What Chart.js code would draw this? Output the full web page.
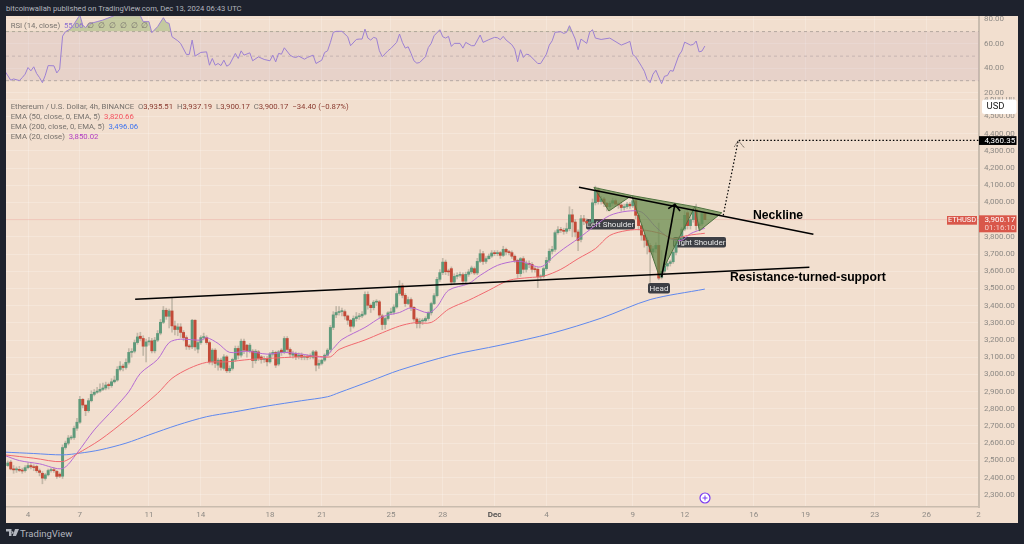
<!DOCTYPE html>
<html><head><meta charset="utf-8">
<script src="https://cdn.jsdelivr.net/npm/chart.js@4"></script>
<style>
html,body{margin:0;padding:0;background:#1e222d;width:1024px;height:544px;overflow:hidden;font-family:Roboto,"Liberation Sans",sans-serif}
#panel{position:absolute;left:6px;top:16px;width:1012px;height:507px;background:#f2dfcf}
canvas{position:absolute}
.t{position:absolute;white-space:nowrap;font-size:7.75px;line-height:10px;color:#77726d}
#hd{left:6px;top:4px;color:#b2b5be;font-size:7.65px}
#ft{left:20px;top:528px;color:#b2b5be;font-size:9.5px;line-height:11px}
.v{color:#8a3b30}
</style></head><body>
<div id="panel"></div>
<canvas id="rsi" style="left:6px;top:16px;width:1012px;height:81px"></canvas>
<canvas id="price" style="left:6px;top:97px;width:1012px;height:426px"></canvas>
<div class="t" id="hd">bitcoinwallah published on TradingView.com, Dec 13, 2024 06:43 UTC</div>
<div class="t" style="left:10.7px;top:20.5px">RSI (14, close) &nbsp;<span style="color:#8d70d0">55.06</span> &nbsp;∅ &nbsp;∅ &nbsp;∅ &nbsp;∅ &nbsp;∅ &nbsp;∅</div>
<div class="t" style="left:10.7px;top:101.5px">Ethereum / U.S. Dollar, 4h, BINANCE &nbsp;O<span class="v">3,935.51</span> &nbsp;H<span class="v">3,937.19</span> &nbsp;L<span class="v">3,900.17</span> &nbsp;C<span class="v">3,900.17</span> &nbsp;<span class="v">−34.40 (−0.87%)</span></div>
<div class="t" style="left:10.7px;top:111.5px">EMA (50, close, 0, EMA, 5) &nbsp;<span style="color:#f4525f">3,820.66</span></div>
<div class="t" style="left:10.7px;top:121.5px">EMA (200, close, 0, EMA, 5) &nbsp;<span style="color:#3f74ef">3,496.06</span></div>
<div class="t" style="left:10.7px;top:131.5px">EMA (20, close) &nbsp;<span style="color:#b23fc4">3,850.02</span></div>
<svg style="position:absolute;left:6px;top:529px" width="13" height="8" viewBox="0 0 13 8"><path d="M0 0h5.5v7H3V2.500H0z M6.200 2.200a1.300 1.300 0 1 0 .01 0z M9 0h4l-3 7H6.700z" fill="#b2b5be"/></svg>
<div class="t" id="ft">TradingView</div>
<script>
// bar index 0 = Nov 4 00:00, one bar = 4h
const firstBar = -7;
const opens = [
2470,2490,2450,2445,2448,2442,2440,2458,2470,2462,
2465,2440,2425,2395,2416,2441,2443,2436,2420,2408,
2575,2600,2630,2633,2687,2722,2855,2822,2789,2847,
2884,2896,2903,2913,2921,2938,2935,2957,2967,3029,
3048,3040,3070,3128,3135,3185,3222,3209,3164,3189,
3195,3137,3199,3240,3303,3373,3338,3369,3282,3261,
3276,3244,3214,3164,3160,3315,3147,3185,3214,3214,
3185,3073,3141,3054,3083,3035,3102,3021,3035,3087,
3151,3112,3193,3170,3137,3135,3081,3131,3102,3087,
3093,3073,3118,3128,3060,3141,3131,3209,3145,3112,
3122,3102,3112,3100,3106,3110,3099,3131,3054,3064,
3083,3112,3145,3273,3346,3360,3365,3365,3340,3315,
3280,3325,3335,3340,3350,3465,3402,3388,3420,3422,
3340,3290,3325,3358,3362,3392,3470,3515,3460,3412,
3435,3390,3322,3296,3310,3312,3325,3358,3412,3458,
3553,3592,3653,3601,3615,3537,3570,3576,3580,3542,
3582,3596,3615,3590,3657,3702,3657,3673,3688,3706,
3702,3708,3692,3727,3712,3708,3687,3663,3586,3673,
3611,3644,3640,3611,3611,3567,3570,3615,3663,3716,
3727,3824,3841,3838,3832,3847,3928,3886,3828,3785,
3905,3890,3880,3885,3998,4073,4005,4020,3995,3975,
3995,4010,3990,3985,3970,3975,3990,3980,4010,3925,
3865,3810,3780,3750,3712,3730,3750,3565,3600,3630,
3645,3655,3710,3780,3790,3845,3940,3865,3900,3958,
3865,3875,3935.51];
const closes = [
2485,2450,2445,2448,2442,2438,2458,2470,2462,2458,
2440,2430,2397,2416,2441,2443,2440,2407,2408,2575,
2600,2630,2633,2687,2722,2855,2822,2789,2847,2884,
2896,2903,2913,2921,2938,2935,2957,2967,3029,3048,
3040,3070,3128,3131,3185,3218,3209,3164,3189,3195,
3137,3199,3238,3303,3373,3338,3369,3282,3261,3276,
3244,3214,3164,3160,3315,3160,3185,3214,3216,3185,
3073,3141,3064,3083,3041,3102,3021,3035,3087,3151,
3112,3193,3141,3137,3170,3081,3135,3093,3087,3093,
3073,3118,3128,3054,3131,3128,3209,3145,3118,3122,
3102,3112,3100,3102,3099,3102,3131,3054,3064,3083,
3112,3141,3273,3346,3360,3365,3365,3340,3315,3280,
3325,3335,3340,3350,3465,3402,3388,3420,3422,3345,
3290,3325,3358,3362,3392,3470,3515,3460,3412,3435,
3390,3322,3296,3310,3312,3325,3358,3412,3458,3553,
3592,3653,3597,3596,3537,3570,3576,3580,3542,3582,
3596,3619,3590,3657,3702,3657,3673,3688,3706,3702,
3708,3692,3727,3712,3708,3687,3663,3586,3673,3611,
3644,3640,3611,3609,3567,3570,3615,3663,3716,3727,
3824,3841,3838,3832,3847,3928,3886,3828,3779,3905,
3890,3880,3885,3998,4073,4005,4020,3995,3975,3995,
4010,3990,3985,3970,3975,3990,3980,4010,3925,3865,
3810,3780,3750,3712,3730,3750,3560,3600,3630,3645,
3655,3710,3780,3790,3845,3925,3865,3900,3958,3865,
3875,3935.51,3900.17];
const highs = [
2498,2500,2470,2462,2465,2455,2470,2485,2482,2475,
2472,2450,2435,2425,2450,2455,2458,2442,2428,2590,
2612,2645,2645,2700,2745,2872,2860,2800,2860,2905,
2912,2925,2945,2950,2955,2950,2975,2990,3045,3075,
3060,3090,3150,3150,3200,3240,3245,3225,3205,3215,
3210,3215,3255,3320,3395,3385,3380,3447,3310,3295,
3295,3255,3225,3175,3320,3318,3195,3225,3240,3225,
3195,3150,3150,3095,3095,3115,3110,3050,3095,3165,
3165,3205,3205,3175,3180,3145,3145,3140,3110,3105,
3105,3128,3140,3135,3140,3150,3220,3220,3155,3135,
3130,3125,3125,3115,3115,3120,3140,3140,3085,3090,
3120,3150,3285,3365,3395,3395,3385,3375,3345,3320,
3340,3360,3355,3365,3480,3480,3410,3430,3435,3430,
3350,3335,3365,3385,3405,3485,3545,3530,3470,3450,
3445,3395,3330,3325,3325,3335,3365,3420,3470,3565,
3610,3675,3665,3612,3625,3585,3590,3595,3590,3595,
3610,3630,3625,3675,3725,3715,3685,3700,3720,3720,
3720,3715,3745,3735,3722,3718,3695,3670,3680,3685,
3660,3660,3650,3625,3620,3580,3625,3680,3730,3745,
3835,3860,3855,3850,3880,3975,3960,3900,3840,3925,
3925,3905,3900,4020,4095,4085,4035,4030,4000,4005,
4025,4020,3998,3995,3990,4000,4000,4025,4020,3935,
3875,3820,3795,3760,3745,3765,3880,3720,3640,3660,
3665,3720,3790,3800,3855,3950,3955,3915,3970,3990,
3885,3945,3937.19];
const lows = [
2465,2445,2425,2430,2435,2425,2432,2450,2450,2440,
2430,2410,2364,2385,2410,2432,2430,2395,2400,2395,
2565,2590,2620,2622,2675,2715,2805,2760,2780,2840,
2875,2890,2895,2905,2910,2915,2925,2950,2960,3020,
3020,3030,3060,3100,3125,3175,3195,3110,3073,3170,
3125,3125,3190,3230,3295,3320,3270,3245,3230,3225,
3215,3195,3145,3145,3150,3140,3125,3175,3200,3175,
3060,3055,3040,3025,3025,3025,3010,3010,3025,3075,
3090,3100,3120,3100,3125,3040,3065,3080,3065,3070,
3050,3065,3105,3040,3050,3110,3120,3125,3100,3095,
3085,3090,3085,3085,3085,3090,3090,3020,3035,3055,
3075,3105,3130,3260,3330,3345,3340,3320,3290,3250,
3270,3310,3320,3330,3345,3380,3360,3375,3400,3330,
3260,3265,3315,3350,3350,3385,3460,3445,3395,3405,
3370,3310,3270,3270,3290,3305,3315,3345,3405,3450,
3540,3580,3580,3575,3520,3525,3555,3565,3525,3530,
3570,3585,3580,3580,3650,3640,3645,3670,3680,3690,
3690,3675,3685,3695,3695,3675,3650,3560,3570,3590,
3595,3620,3595,3595,3505,3550,3560,3605,3650,3700,
3715,3815,3825,3815,3820,3835,3800,3800,3720,3770,
3870,3860,3860,3870,3985,3990,3990,3975,3950,3960,
3980,3975,3965,3950,3955,3965,3965,3970,3905,3840,
3780,3740,3700,3535,3680,3710,3550,3555,3580,3610,
3630,3645,3695,3770,3780,3835,3845,3845,3885,3840,
3850,3865,3900.17];

const ema200Bars = [-8,2,12,18,25,34,42,52,62,71,83,95,104,108,119,129,147,164,182,199,216,235];
const ema200Vals = [2548,2540,2532,2542,2561,2600,2648,2706,2754,2780,2816,2847,2870,2894,2962,3025,3112,3170,3240,3327,3435,3496.06];
const ema50Bars = [-8,2,12,17,25,34,45,50,56,62,69,77,89,100,105,108,117,123,129,134,140,146,153,160,167,174,179,185,191,197,202,208,213,220,224,229,235];
const ema50Vals = [2532,2513,2493,2538,2619,2735,2890,2977,3035,3070,3073,3087,3098,3106,3102,3145,3200,3242,3281,3300,3302,3379,3431,3489,3547,3563,3571,3611,3673,3731,3808,3837,3841,3818,3789,3808,3820.66];
const ema20Bars = [-8,-3,4,12,17,23,30,35,39,45,49,53,60,62,66,70,76,83,89,95,103,106,109,117,123,129,133,139,142,146,153,157,163,169,172,178,183,186,191,197,202,208,213,218,223,227,230,235];
const ema20Vals = [2528,2499,2480,2453,2542,2677,2803,2899,3006,3087,3185,3205,3199,3214,3180,3128,3135,3118,3128,3118,3102,3151,3203,3273,3335,3360,3387,3358,3393,3489,3528,3576,3634,3658,3654,3625,3692,3731,3789,3866,3924,3949,3944,3857,3789,3780,3818,3850.02];

const rsiBars = [-8,-6,-5,-3,-2,-1,0,1,2,3,4,5,6,7,9,10,11,12,13,15,16,18,19,20,21,24,26,30,39,40,42,43,45,47,48,49,50,52,53,55,56,57,58,60,62,63,64,65,66,67,68,69,70,72,73,74,75,77,78,80,82,84,85,86,87,88,89,91,92,93,94,96,97,99,100,102,103,104,105,106,107,109,111,112,114,115,116,117,118,119,120,121,122,123,125,126,128,129,130,131,132,133,134,135,136,138,139,140,141,143,144,145,146,147,148,150,151,152,154,155,157,158,160,162,163,164,165,166,168,169,170,171,172,173,174,177,178,180,181,182,183,185,186,187,188,190,191,192,194,195,196,197,199,202,206,208,209,210,211,213,214,215,216,217,218,220,221,222,223,224,226,227,228,230,231,232,233,234,235];
const rsiVals = [37.7,30.4,31.4,30.1,32.5,35.3,40.7,38,41.3,35.8,32.5,28.4,34.4,42.3,42.1,36.3,39.4,66.3,69.9,72.6,76.2,83.5,75.3,73.2,76.2,78.1,79.4,83,83,78.1,78.1,69.1,74,81.3,77.5,76.7,65.8,62.5,60.3,51.4,51.4,63.1,50,53,53.5,42.6,48.1,42.6,44,42.3,46.7,41.8,43.2,52.2,48.1,54.3,50.8,52.7,46.2,49.4,47.3,46.2,50.8,45.3,52.2,51.6,56.8,50.8,49.4,48.9,50,47.5,48.9,50.8,44,46.7,53,54.3,61.2,69.4,70.2,70.2,65.8,58.5,63.6,63.9,63.9,72,64.7,63.1,65.3,64.5,54.4,49.5,54.4,56.3,61.2,68,61.2,56.5,57.6,52.2,46.2,44.3,44.8,49.5,57,60.4,66.6,71.5,65.8,64.7,66.1,57.9,60.4,60.4,56.5,61.2,58.5,58.5,67.2,61.2,63.4,65.3,65,63.4,66.1,63.1,59.3,55.7,45.4,55.2,48.9,51.6,51.1,44,44,51.6,59,62.5,69.4,69.9,68.5,69.4,74.8,63.9,55.2,63.9,60.4,69.4,71.5,64.7,63.6,64.7,59,60.9,62,51.3,49.4,41.8,37.7,30.9,28.4,35.3,38.5,27.6,33.6,34.2,38.3,37.7,50.8,54.1,61.4,59,59.5,62.3,53.5,54.1,58.2,55.06];

const dateTickBars = [0,18,42,60,84,102,126,144,162,180,210,228,252,270,294,312,330];
const dateTickLabels = ["4","7","11","14","18","21","25","28","Dec","4","9","12","16","19","23","26","2"];
const rsiTicks = [80,60,40,20];

const resistanceBars=[37.2,271.3], resistanceVals=[3437,3623];
const necklineBars=[191.3,272.7], necklineVals=[4088,3815];
const upArrowBars=[220,224.6], upArrowVals=[3565,3989];
const upHeadBars=[222.3,224.6,226.4], upHeadVals=[3964,3989,3950];
const targetBars=[241.4,246.6,330.2], targetVals=[3925,4360.35,4360.35];
const targetHeadBars=[245.3,246.6,248.6], targetHeadVals=[4325,4360.35,4320];
const shapeBars=[[196.5,201.7,209.6],[209.6,219.2,231.6],[231.6,233.1,240.9]];
const shapeVals=[[4087,3950,4040],[4040,3570,3975],[3975,3835,3940]];

const X_MIN=-7.64, X_MAX=330.2, P_MIN=2229, P_MAX=4613, R_MIN=16.7, R_MAX=82.7;
const barsX = opens.map((_,k)=>firstBar+k);
const pts=(xs,ys)=>xs.map((x,k)=>({x,y:ys[k]}));
const GRID='rgba(255,255,255,0.22)', AXIS='#c9bcae', TICK='#8e8a85';
const tickFont=(t)=>({size:8,family:'Roboto,sans-serif',weight:t==='Dec'?'600':'400'});

function xScale(show){return {type:'linear',min:X_MIN,max:X_MAX,offset:false,
  afterBuildTicks:s=>{s.ticks=dateTickBars.map(v=>({value:v}))},
  afterFit:s=>{s.height=show?16:0;s.paddingLeft=0;s.paddingRight=0},
  border:{display:show,color:AXIS,width:1.5},
  grid:{color:GRID,drawTicks:false,offset:false},
  ticks:{display:show,autoSkip:false,maxRotation:0,padding:3,color:(c)=>dateTickLabels[c.index]==='Dec'?'#4a4a4a':TICK,
    font:(c)=>tickFont(dateTickLabels[c.index]),
    callback:(v,i)=>dateTickLabels[i]}}}
function yScale(min,max,cfg){return Object.assign({position:'right',min,max,
  afterFit:s=>{s.width=39;s.paddingTop=0;s.paddingBottom=0},
  border:{color:AXIS,width:2},
  grid:{color:GRID,drawTicks:false},
  },cfg)}

const rsiLine=(y,dash,c)=>({type:'line',data:pts([X_MIN,X_MAX],[y,y]),borderColor:c,borderWidth:1,borderDash:dash,pointRadius:0,fill:false});
new Chart(document.getElementById('rsi'),{type:'line',
 data:{datasets:[
  {data:pts(rsiBars,rsiVals),borderColor:'#9c80d2',borderWidth:1,pointRadius:0,tension:0,order:1,
   fill:{target:{value:70},above:'rgba(120,165,85,0.38)',below:'rgba(0,0,0,0)'}},
  Object.assign(rsiLine(70,[3,3],'#b5a8a0'),{order:3,fill:{target:{value:30}},backgroundColor:'rgba(190,165,180,0.22)'}),
  Object.assign(rsiLine(50,[3,3],'#c8b8b0'),{order:4}),
  Object.assign(rsiLine(30,[3,3],'#b5a8a0'),{order:5})
 ]},
 options:{responsive:false,animation:false,layout:{padding:0},
  plugins:{legend:{display:false},tooltip:{enabled:false}},
  scales:{x:xScale(false),
   y:yScale(R_MIN,R_MAX,{afterBuildTicks:s=>{s.ticks=rsiTicks.map(v=>({value:v}))},
     ticks:{color:TICK,padding:5,font:{size:8,family:'Roboto,sans-serif'},callback:v=>v.toFixed(2)}})}
 }});

const upColor='#5f9a7b', downColor='#c34a38';
const annotation=(xs,ys,o)=>Object.assign({type:'line',data:pts(xs,ys),pointRadius:0,borderColor:'#000',borderWidth:1.6,fill:false,tension:0},o);
const EMA_LAST=2;
const overlay={id:'overlay',
 beforeDatasetsDraw(chart){
  const c=chart.ctx,top=chart.canvas.offsetTop,left=chart.canvas.offsetLeft;
  const pill=(x0,y0,w,h,txt)=>{c.fillStyle='#3d3f45';c.beginPath();c.roundRect(x0-left,y0-top,w,h,2);c.fill();
    c.fillStyle='#e6e6e6';c.font='400 8px Roboto,sans-serif';c.textAlign='center';c.textBaseline='middle';c.fillText(txt,x0-left+w/2,y0-top+h/2+.5)};
  c.save();
  pill(586,219,49,10.5,'Left Shoulder');pill(673,237,53,10.5,'Right Shoulder');pill(648,283,22,10.5,'Head');
  c.restore();
 },
 afterDatasetDraw(chart,args){
  if(args.index!==EMA_LAST) return;
  const {x,y}=chart.scales,c=chart.ctx;
  c.save();
  shapeBars.forEach((b,k)=>{c.beginPath();
    b.forEach((v,j)=>{const px=x.getPixelForValue(v),py=y.getPixelForValue(shapeVals[k][j]);j?c.lineTo(px,py):c.moveTo(px,py)});
    c.closePath();c.fillStyle='rgba(104,140,78,0.74)';c.fill();c.strokeStyle='#4f7240';c.lineWidth=1;c.stroke();});
  c.restore();
 },
 afterDraw(chart){
  const {x,y}=chart.scales,c=chart.ctx;
  const top=chart.canvas.offsetTop,left=chart.canvas.offsetLeft;
  const X=v=>v-left,Y=v=>v-top;
  c.save();
  const font=(s,w)=>w+' '+s+'px Roboto,sans-serif';
  c.fillStyle='#000';c.textAlign='left';c.textBaseline='middle';c.font='bold 12.2px "Liberation Sans",sans-serif';
  c.fillText('Neckline',X(753),Y(215.5));c.fillText('Resistance-turned-support',X(730),Y(277.5));
  c.textBaseline='middle';c.textAlign='left';
  c.fillStyle='#fff';c.beginPath();c.roundRect(X(982),Y(99.5),34.5,14.5,2.5);c.fill();
  c.fillStyle='#222';c.font=font(9.5,400);c.fillText('USD',X(986.5),Y(107));
  const py=y.getPixelForValue(4360.35);
  c.fillStyle='#000';c.fillRect(X(979),py-4.3,37.5,8.8);
  c.fillStyle='#fff';c.font=font(8,400);c.fillText('4,360.35',X(984.5),py+.3);
  c.fillStyle='#d9574a';c.fillRect(X(979),Y(215.3),37.5,17);
  c.fillRect(X(947),Y(216),30,8.7);
  c.fillStyle='#fff';c.fillText('3,900.17',X(984.5),Y(219.8));
  c.fillStyle='#f6cfc8';c.fillText('01:16:10',X(984.5),Y(228));
  c.fillStyle='#fff';c.font=font(7.4,400);c.textAlign='center';c.fillText('ETHUSD',X(962),Y(220.5));c.textAlign='left';
  c.beginPath();c.arc(X(705),Y(498),5,0,7);c.fillStyle='#fff';c.fill();c.lineWidth=1.2;c.strokeStyle='#7a3cf0';c.stroke();
  c.strokeStyle='#7a3cf0';c.lineWidth=1;c.beginPath();c.moveTo(X(702.5),Y(498));c.lineTo(X(707.5),Y(498));c.moveTo(X(705),Y(495.5));c.lineTo(X(705),Y(500.5));c.stroke();
  c.restore();
 }};

new Chart(document.getElementById('price'),{type:'bar',
 data:{datasets:[
  annotation([X_MIN,X_MAX],[3900.17,3900.17],{borderColor:'rgba(217,87,74,0.22)',borderWidth:1,order:20}),
  annotation(ema200Bars,ema200Vals,{borderColor:'#5f88ee',borderWidth:1,tension:.3,order:11}),
  annotation(ema50Bars,ema50Vals,{borderColor:'#f0696f',borderWidth:1,tension:.3,order:10}),
  annotation(ema20Bars,ema20Vals,{borderColor:'#b56bd2',borderWidth:1,tension:.3,order:12}),
  {type:'bar',grouped:false,order:15,barThickness:1,data:barsX.map((x,k)=>({x,y:[lows[k],highs[k]]})),backgroundColor:'rgba(150,145,130,0.5)'},
  {type:'bar',grouped:false,order:14,barThickness:2.3,minBarLength:1,data:barsX.map((x,k)=>({x,y:[opens[k],closes[k]]})),
   backgroundColor:barsX.map((_,k)=>closes[k]>=opens[k]?upColor:downColor)},
  annotation(resistanceBars,resistanceVals,{order:5}),
  annotation(necklineBars,necklineVals,{order:4}),
  annotation(upArrowBars,upArrowVals,{order:3}),
  annotation(upHeadBars,upHeadVals,{order:2}),
  annotation(targetBars,targetVals,{order:1,borderWidth:1.2,borderDash:[1.5,2]}),
  annotation(targetHeadBars,targetHeadVals,{order:0,borderWidth:1,borderDash:[1,1.5]})
 ]},
 plugins:[overlay],
 options:{responsive:false,animation:false,layout:{padding:0},
  plugins:{legend:{display:false},tooltip:{enabled:false}},
  scales:{x:xScale(true),
   y:yScale(P_MIN,P_MAX,{ticks:{stepSize:100,includeBounds:false,color:TICK,padding:5,font:{size:8,family:'Roboto,sans-serif'},
     callback:v=>v.toLocaleString('en-US',{minimumFractionDigits:2,maximumFractionDigits:2})}})}
 }});
</script>
</body></html>
